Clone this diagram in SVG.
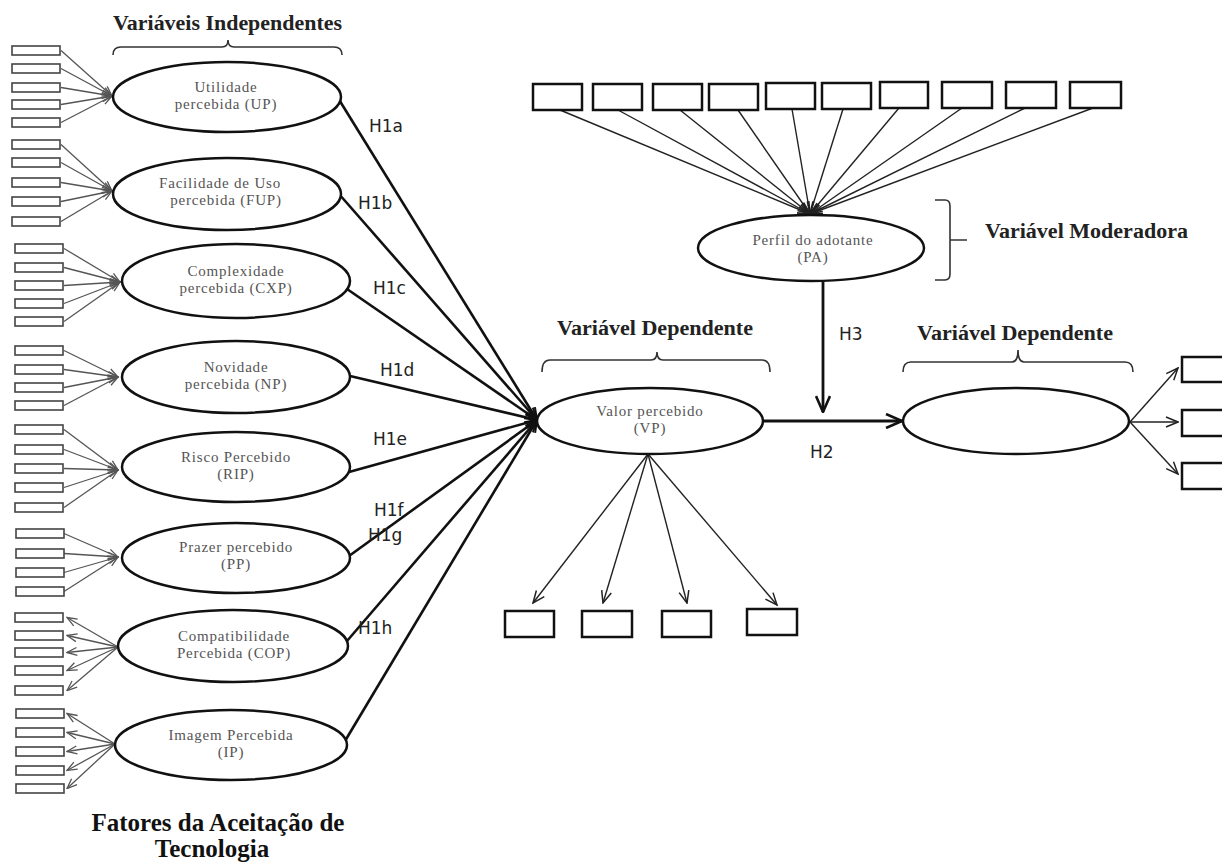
<svg xmlns="http://www.w3.org/2000/svg" width="1222" height="866" viewBox="0 0 1222 866">
<style>
.bg{fill:#fff}
.lv{fill:#fff;stroke:#111;stroke-width:2.5}
.ind{fill:#fff;stroke:#444;stroke-width:1.6}
.box{fill:#fff;stroke:#111;stroke-width:2.5}
.et{font-family:"Liberation Serif","Times New Roman",serif;font-size:15px;fill:#555;text-anchor:middle;letter-spacing:0.8px}
.hd{font-family:"Liberation Serif","Times New Roman",serif;font-size:20px;font-weight:bold;fill:#222}
.ft{font-family:"Liberation Serif","Times New Roman",serif;font-size:25px;font-weight:bold;fill:#111;text-anchor:middle}
.hl{font-family:"DejaVu Sans",sans-serif;font-size:17px;fill:#222}
.gl{stroke:#555;stroke-width:1.3;fill:none;marker-end:url(#ag)}
.tl{stroke:#222;stroke-width:1.4;fill:none;marker-end:url(#ab)}
.h1{stroke:#111;stroke-width:2.6;fill:none;marker-end:url(#ah)}
.hb{stroke:#111;stroke-width:2.8;fill:none;marker-end:url(#abig)}
.br{stroke:#333;stroke-width:1.6;fill:none}
</style>
<defs>
<marker id="ag" markerUnits="userSpaceOnUse" viewBox="0 0 12 10" refX="11" refY="5" markerWidth="12" markerHeight="10" orient="auto"><path d="M1,1 L11,5 L1,9" fill="none" stroke="#555" stroke-width="1.3"/></marker>
<marker id="ab" markerUnits="userSpaceOnUse" viewBox="0 0 14 12" refX="13" refY="6" markerWidth="14" markerHeight="12" orient="auto"><path d="M1,1 L13,6 L1,11" fill="none" stroke="#222" stroke-width="1.5"/></marker>
<marker id="ah" markerUnits="userSpaceOnUse" viewBox="0 0 14 12" refX="13" refY="6" markerWidth="14" markerHeight="12" orient="auto"><path d="M1,1 L13,6 L1,11" fill="none" stroke="#111" stroke-width="2"/></marker>
<marker id="abig" markerUnits="userSpaceOnUse" viewBox="0 0 18 16" refX="17" refY="8" markerWidth="18" markerHeight="16" orient="auto"><path d="M1,1 L17,8 L1,15" fill="none" stroke="#111" stroke-width="2.6"/></marker>
</defs>
<rect class="bg" x="0" y="0" width="1222" height="866"/>

<g id="connectors">
<path class="gl" d="M61,50.5 L112,96"/><path class="gl" d="M61,68.5 L112,96"/><path class="gl" d="M61,87.5 L112,96"/><path class="gl" d="M61,104.5 L112,96"/><path class="gl" d="M61,122.5 L112,96"/>
<path class="gl" d="M61,144.5 L112,191"/><path class="gl" d="M61,162.5 L112,191"/><path class="gl" d="M61,182.5 L112,191"/><path class="gl" d="M61,201.5 L112,191"/><path class="gl" d="M61,221.5 L112,191"/>
<path class="gl" d="M64,248.5 L120,282"/><path class="gl" d="M64,267.5 L120,282"/><path class="gl" d="M64,285.5 L120,282"/><path class="gl" d="M64,303.5 L120,282"/><path class="gl" d="M64,321.5 L120,282"/>
<path class="gl" d="M64,350.5 L118,377"/><path class="gl" d="M64,369.5 L118,377"/><path class="gl" d="M64,387.5 L118,377"/><path class="gl" d="M64,405.5 L118,377"/>
<path class="gl" d="M64,429.5 L118,470"/><path class="gl" d="M64,449.5 L118,470"/><path class="gl" d="M64,468.5 L118,470"/><path class="gl" d="M64,487.5 L118,470"/><path class="gl" d="M64,507.5 L118,470"/>
<path class="gl" d="M64,533.5 L118,557"/><path class="gl" d="M64,553.5 L118,557"/><path class="gl" d="M64,572.5 L118,557"/><path class="gl" d="M64,591.5 L118,557"/>
<path class="gl" d="M118,647 L67,617.5"/><path class="gl" d="M118,647 L67,635.5"/><path class="gl" d="M118,647 L67,652.5"/><path class="gl" d="M118,647 L67,670.5"/><path class="gl" d="M118,647 L67,690.5"/>
<path class="gl" d="M115,744 L67,713.5"/><path class="gl" d="M115,744 L67,732.5"/><path class="gl" d="M115,744 L67,751.5"/><path class="gl" d="M115,744 L67,770.5"/><path class="gl" d="M115,744 L67,788.5"/>

<path class="h1" d="M338,98 L537,420"/>
<path class="h1" d="M339,194 L537,420"/>
<path class="h1" d="M347,289 L537,420"/>
<path class="h1" d="M350,376 L537,420"/>
<path class="h1" d="M349,472 L537,420"/>
<path class="h1" d="M349,556 L537,420"/>
<path class="h1" d="M347,641 L537,420"/>
<path class="h1" d="M345,741 L537,420"/>

<path class="tl" d="M560,110 L810,214"/><path class="tl" d="M618,110 L810,214"/><path class="tl" d="M680,110 L810,214"/><path class="tl" d="M738,110 L810,214"/><path class="tl" d="M792,109 L810,214"/>
<path class="tl" d="M843,109 L810,214"/><path class="tl" d="M899,108 L810,214"/><path class="tl" d="M962,108 L810,214"/><path class="tl" d="M1025,108 L810,214"/><path class="tl" d="M1093,108 L810,214"/>

<path class="tl" d="M648,454 L533,603"/><path class="tl" d="M648,454 L603,603"/><path class="tl" d="M648,454 L687,603"/><path class="tl" d="M648,454 L777,605"/>

<path class="tl" d="M1130,422 L1178,368"/><path class="tl" d="M1130,422 L1178,422"/><path class="tl" d="M1130,422 L1178,474"/>

<path class="hb" d="M763,421 L902,421"/>
<path class="hb" d="M823,282 L823,412"/>
</g>

<g id="labels">
<text class="hl" x="369" y="132">H1a</text>
<text class="hl" x="358" y="209">H1b</text>
<text class="hl" x="373" y="294">H1c</text>
<text class="hl" x="380" y="376">H1d</text>
<text class="hl" x="373" y="445">H1e</text>
<text class="hl" x="374" y="516">H1f</text>
<text class="hl" x="368" y="541">H1g</text>
<text class="hl" x="358" y="634">H1h</text>
<text class="hl" x="839" y="340">H3</text>
<text class="hl" x="810" y="458">H2</text>
</g>

<g id="ind-left">
<rect class="ind" x="12" y="46" width="48" height="9"/><rect class="ind" x="12" y="64" width="48" height="9"/><rect class="ind" x="12" y="83" width="48" height="9"/><rect class="ind" x="12" y="100" width="48" height="9"/><rect class="ind" x="12" y="118" width="48" height="9"/>
<rect class="ind" x="12" y="140" width="48" height="9"/><rect class="ind" x="12" y="158" width="48" height="9"/><rect class="ind" x="12" y="178" width="48" height="9"/><rect class="ind" x="12" y="197" width="48" height="9"/><rect class="ind" x="12" y="217" width="48" height="9"/>
<rect class="ind" x="15" y="244" width="48" height="9"/><rect class="ind" x="15" y="263" width="48" height="9"/><rect class="ind" x="15" y="281" width="48" height="9"/><rect class="ind" x="15" y="299" width="48" height="9"/><rect class="ind" x="15" y="317" width="48" height="9"/>
<rect class="ind" x="15" y="346" width="48" height="9"/><rect class="ind" x="15" y="365" width="48" height="9"/><rect class="ind" x="15" y="383" width="48" height="9"/><rect class="ind" x="15" y="401" width="48" height="9"/>
<rect class="ind" x="15" y="425" width="48" height="9"/><rect class="ind" x="15" y="445" width="48" height="9"/><rect class="ind" x="15" y="464" width="48" height="9"/><rect class="ind" x="15" y="483" width="48" height="9"/><rect class="ind" x="15" y="503" width="48" height="9"/>
<rect class="ind" x="16" y="529" width="48" height="9"/><rect class="ind" x="16" y="549" width="48" height="9"/><rect class="ind" x="16" y="568" width="48" height="9"/><rect class="ind" x="16" y="587" width="48" height="9"/>
<rect class="ind" x="15" y="613" width="48" height="9"/><rect class="ind" x="15" y="631" width="48" height="9"/><rect class="ind" x="15" y="648" width="48" height="9"/><rect class="ind" x="15" y="666" width="48" height="9"/><rect class="ind" x="15" y="686" width="48" height="9"/>
<rect class="ind" x="16" y="709" width="48" height="9"/><rect class="ind" x="16" y="728" width="48" height="9"/><rect class="ind" x="16" y="747" width="48" height="9"/><rect class="ind" x="16" y="766" width="48" height="9"/><rect class="ind" x="16" y="784" width="48" height="9"/>
</g>

<g id="ind-top">
<rect class="box" x="533" y="84" width="49" height="26"/><rect class="box" x="593" y="84" width="49" height="26"/><rect class="box" x="653" y="84" width="49" height="26"/><rect class="box" x="709" y="84" width="49" height="26"/><rect class="box" x="766" y="83" width="49" height="26"/>
<rect class="box" x="822" y="83" width="49" height="26"/><rect class="box" x="880" y="82" width="48" height="26"/><rect class="box" x="942" y="82" width="50" height="26"/><rect class="box" x="1006" y="82" width="50" height="26"/><rect class="box" x="1070" y="82" width="51" height="26"/>
</g>

<g id="ind-vp">
<rect class="box" x="505" y="611" width="49" height="26"/><rect class="box" x="582" y="611" width="50" height="26"/><rect class="box" x="662" y="611" width="49" height="26"/><rect class="box" x="747" y="609" width="50" height="26"/>
</g>

<g id="ind-right">
<rect class="box" x="1182" y="357" width="52" height="25"/><rect class="box" x="1182" y="410" width="52" height="26"/><rect class="box" x="1182" y="463" width="52" height="26"/>
</g>

<g id="UP"><ellipse class="lv" cx="227" cy="97" rx="114" ry="35"/><text class="et" x="226" y="92">Utilidade</text><text class="et" x="226" y="109">percebida (UP)</text></g>
<g id="FUP"><ellipse class="lv" cx="227" cy="194" rx="114" ry="36"/><text class="et" x="220" y="188">Facilidade de Uso</text><text class="et" x="226" y="205">percebida (FUP)</text></g>
<g id="CXP"><ellipse class="lv" cx="236" cy="281" rx="114" ry="37"/><text class="et" x="236" y="276">Complexidade</text><text class="et" x="236" y="293">percebida (CXP)</text></g>
<g id="NP"><ellipse class="lv" cx="236" cy="377" rx="114" ry="36"/><text class="et" x="236" y="372">Novidade</text><text class="et" x="236" y="389">percebida (NP)</text></g>
<g id="RIP"><ellipse class="lv" cx="236" cy="467" rx="114" ry="35"/><text class="et" x="236" y="462">Risco Percebido</text><text class="et" x="236" y="479">(RIP)</text></g>
<g id="PP"><ellipse class="lv" cx="236" cy="558" rx="114" ry="35"/><text class="et" x="236" y="552">Prazer percebido</text><text class="et" x="236" y="569">(PP)</text></g>
<g id="COP"><ellipse class="lv" cx="233" cy="646" rx="115" ry="36"/><text class="et" x="234" y="641">Compatibilidade</text><text class="et" x="234" y="658">Percebida (COP)</text></g>
<g id="IP"><ellipse class="lv" cx="231" cy="745" rx="116" ry="35"/><text class="et" x="231" y="740">Imagem Percebida</text><text class="et" x="231" y="757">(IP)</text></g>

<g id="PA"><ellipse class="lv" cx="811" cy="248" rx="113" ry="33"/><text class="et" x="813" y="245">Perfil do adotante</text><text class="et" x="813" y="262">(PA)</text></g>
<g id="VP"><ellipse class="lv" cx="650" cy="421" rx="113" ry="33"/><text class="et" x="650" y="416">Valor percebido</text><text class="et" x="650" y="433">(VP)</text></g>
<g id="DV2"><ellipse class="lv" cx="1016" cy="421" rx="113" ry="33"/></g>

<g id="headers">
<path class="br" d="M113,55 Q113,47 121,47 L222,47 Q228,47 228,40 Q228,47 234,47 L334,47 Q342,47 342,55"/>
<text class="hd" x="113" y="30" textLength="229" lengthAdjust="spacingAndGlyphs">Variáveis Independentes</text>
<path class="br" d="M542,372 Q542,360 550,360 L651,360 Q657,360 657,352 Q657,360 663,360 L762,360 Q770,360 770,372"/>
<text class="hd" x="557" y="335" textLength="196" lengthAdjust="spacingAndGlyphs">Variável Dependente</text>
<path class="br" d="M903,372 Q903,362 911,362 L1012,362 Q1018,362 1018,350 Q1018,362 1024,362 L1125,362 Q1133,362 1133,372"/>
<text class="hd" x="917" y="340" textLength="196" lengthAdjust="spacingAndGlyphs">Variável Dependente</text>
<path class="br" d="M935,200 L945,200 Q950,200 950,206 L950,240 L967,240 M950,240 L950,274 Q950,280 945,280 L935,280"/>
<text class="hd" x="985" y="238" textLength="203" lengthAdjust="spacingAndGlyphs">Variável Moderadora</text>
<text class="ft" x="218" y="831">Fatores da Aceitação de</text>
<text class="ft" x="212" y="857">Tecnologia</text>
</g>
</svg>
